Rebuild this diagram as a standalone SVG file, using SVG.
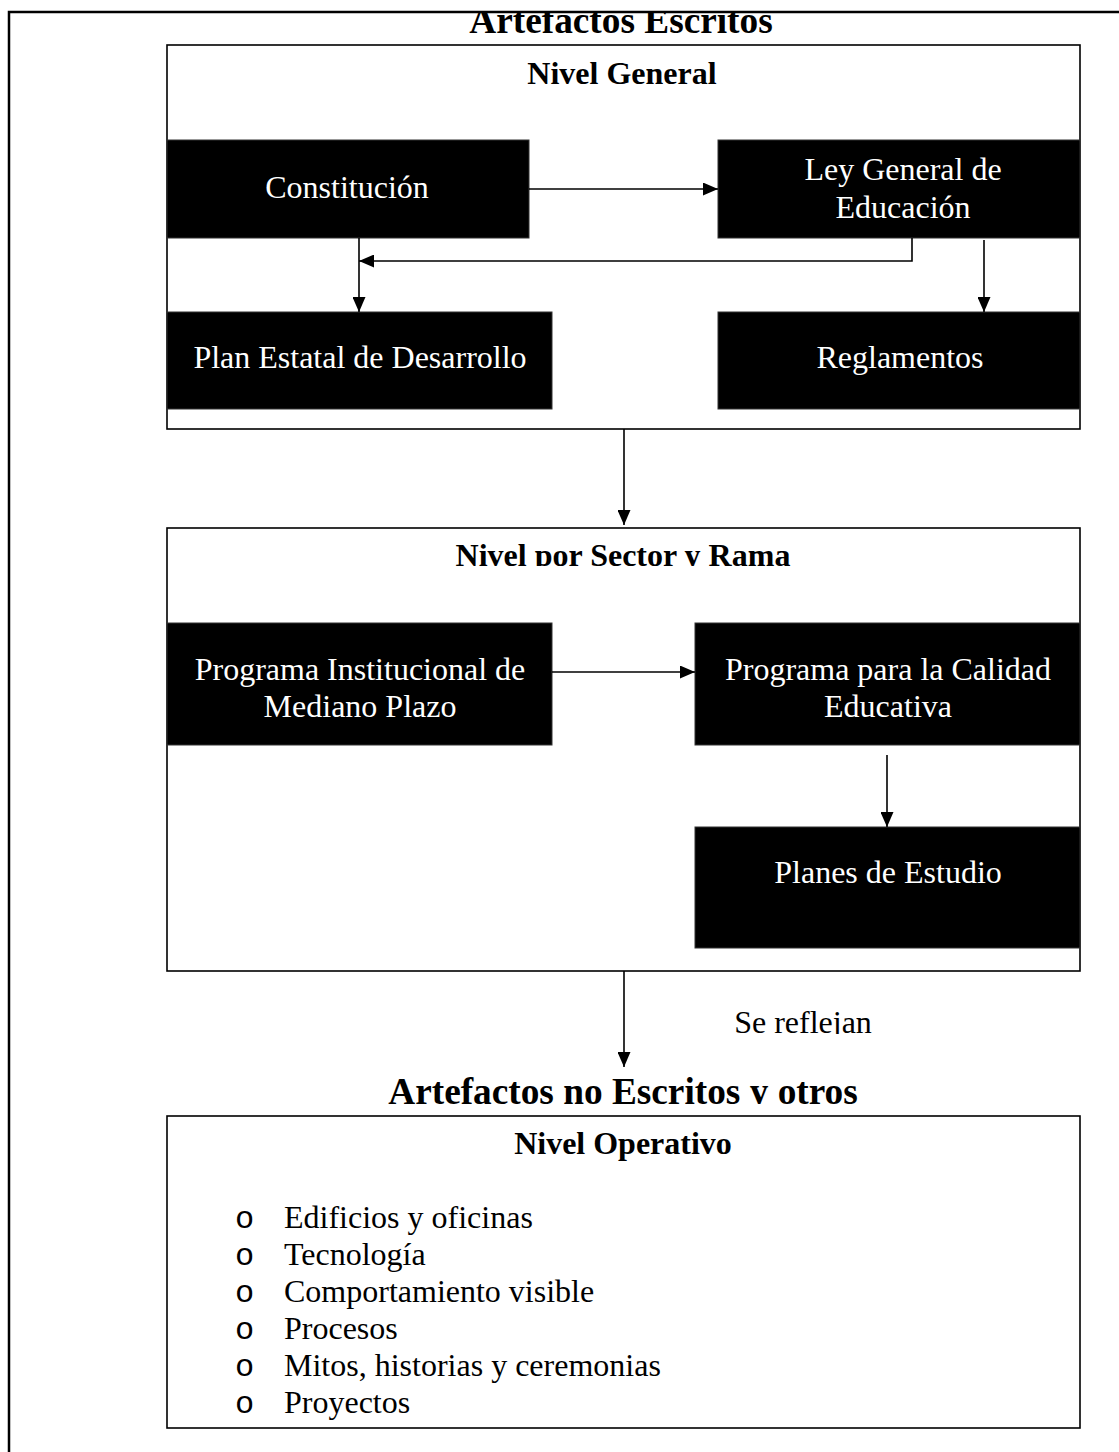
<svg xmlns="http://www.w3.org/2000/svg" width="1119" height="1452" viewBox="0 0 1119 1452">
<defs>
<marker id="ah" markerWidth="15" markerHeight="13" refX="15" refY="6.5" orient="auto" markerUnits="userSpaceOnUse"><path d="M0,0 L15,6.5 L0,13 Z" fill="#000"/></marker>
<clipPath id="clipTop"><rect x="0" y="13" width="1119" height="40"/></clipPath>
<clipPath id="clipSector"><rect x="0" y="530" width="1119" height="36"/></clipPath>
<clipPath id="clipRefl"><rect x="0" y="1000" width="1119" height="34"/></clipPath>
<clipPath id="clipNoEsc"><rect x="0" y="1070" width="1119" height="34"/></clipPath>
</defs>
<style>
.frame{fill:none;stroke:#000;stroke-width:2.5}
.panel{fill:#fff;stroke:#000;stroke-width:1.6}
.blk{fill:#000;stroke:#333;stroke-width:1}
.wt{font-family:"Liberation Serif","Times New Roman",serif;font-size:32px;fill:#fff;text-anchor:middle}
.lvl{font-family:"Liberation Serif","Times New Roman",serif;font-size:32px;font-weight:bold;fill:#000;text-anchor:middle}
.sec{font-family:"Liberation Serif","Times New Roman",serif;font-size:37.3px;font-weight:bold;fill:#000;text-anchor:middle}
.txt{font-family:"Liberation Serif","Times New Roman",serif;font-size:32px;fill:#000}
.bul{font-family:"Liberation Mono","Courier New",monospace;font-size:32px;fill:#000}
.conn{stroke:#000;stroke-width:1.6;fill:none}
</style>
<rect x="0" y="0" width="1119" height="1452" fill="#fff"/>
<g id="title-escritos">
<text class="sec" x="621" y="33" clip-path="url(#clipTop)">Artefactos Escritos</text>
</g>
<g id="nivel-general">
<rect class="panel" x="167" y="45" width="913" height="384"/>
<text class="lvl" x="622" y="84">Nivel General</text>
</g>
<g id="constitucion">
<rect class="blk" x="167" y="140" width="362" height="98"/>
<text class="wt" x="347" y="198">Constitución</text>
</g>
<g id="ley-general">
<rect class="blk" x="718" y="140" width="362" height="98"/>
<text class="wt" x="903" y="180">Ley General de</text>
<text class="wt" x="903" y="218">Educación</text>
</g>
<g id="plan-estatal">
<rect class="blk" x="167" y="312" width="385" height="97"/>
<text class="wt" x="360" y="368">Plan Estatal de Desarrollo</text>
</g>
<g id="reglamentos">
<rect class="blk" x="718" y="312" width="362" height="97"/>
<text class="wt" x="900" y="368">Reglamentos</text>
</g>
<g id="nivel-sector">
<rect class="panel" x="167" y="528" width="913" height="443"/>
<text class="lvl" x="623" y="566" clip-path="url(#clipSector)">Nivel por Sector y Rama</text>
</g>
<g id="programa-institucional">
<rect class="blk" x="167" y="623" width="385" height="122"/>
<text class="wt" x="360" y="680">Programa Institucional de</text>
<text class="wt" x="360" y="717">Mediano Plazo</text>
</g>
<g id="programa-calidad">
<rect class="blk" x="695" y="623" width="385" height="122"/>
<text class="wt" x="888" y="680">Programa para la Calidad</text>
<text class="wt" x="888" y="717">Educativa</text>
</g>
<g id="planes-estudio">
<rect class="blk" x="695" y="827" width="385" height="121"/>
<text class="wt" x="888" y="883">Planes de Estudio</text>
</g>
<g id="label-reflejan">
<text class="txt" x="803" y="1033" text-anchor="middle" clip-path="url(#clipRefl)">Se reflejan</text>
</g>
<g id="title-no-escritos">
<text class="sec" x="623" y="1104" clip-path="url(#clipNoEsc)">Artefactos no Escritos y otros</text>
</g>
<g id="nivel-operativo">
<rect class="panel" x="167" y="1116" width="913" height="312"/>
<text class="lvl" x="623" y="1154">Nivel Operativo</text>
<text class="bul" x="235" y="1228">o</text><text class="txt" x="284" y="1228">Edificios y oficinas</text>
<text class="bul" x="235" y="1265">o</text><text class="txt" x="284" y="1265">Tecnología</text>
<text class="bul" x="235" y="1302">o</text><text class="txt" x="284" y="1302">Comportamiento visible</text>
<text class="bul" x="235" y="1339">o</text><text class="txt" x="284" y="1339">Procesos</text>
<text class="bul" x="235" y="1376">o</text><text class="txt" x="284" y="1376">Mitos, historias y ceremonias</text>
<text class="bul" x="235" y="1413">o</text><text class="txt" x="284" y="1413">Proyectos</text>
</g>
<g id="connectors">
<path class="conn" d="M529,189 H718" marker-end="url(#ah)"/>
<path class="conn" d="M359,238 V312" marker-end="url(#ah)"/>
<path class="conn" d="M912,238 V261 H359" marker-end="url(#ah)"/>
<path class="conn" d="M984,240 V312" marker-end="url(#ah)"/>
<path class="conn" d="M624,429 V525" marker-end="url(#ah)"/>
<path class="conn" d="M552,672 H695" marker-end="url(#ah)"/>
<path class="conn" d="M887,755 V827" marker-end="url(#ah)"/>
<path class="conn" d="M624,971 V1067" marker-end="url(#ah)"/>
</g>
<path class="frame" d="M9,1452 V12 H1119"/>
</svg>
